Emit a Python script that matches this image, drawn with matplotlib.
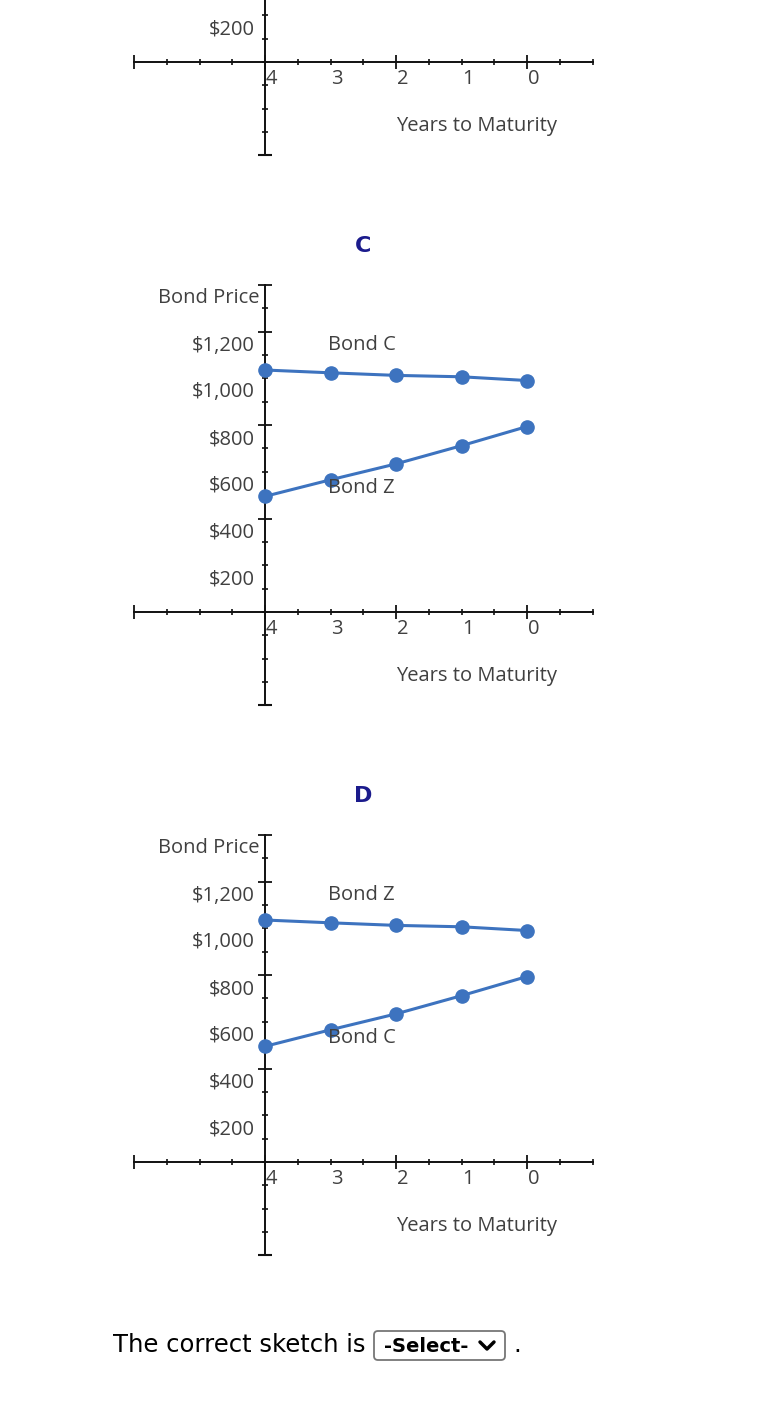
import numpy as np
import matplotlib.pyplot as plt
from matplotlib.transforms import offset_copy, IdentityTransform
from matplotlib.patches import FancyBboxPatch
from matplotlib.lines import Line2D

years = [4, 3, 2, 1, 0]
upper_line = [1036, 1024, 1013, 1007, 991]
lower_line = [495, 566, 634, 712, 794]
price_ticks = [1200, 1000, 800, 600, 400, 200]
price_labels = ['$1,200', '$1,000', '$800', '$600', '$400', '$200']
year_ticks = [4, 3, 2, 1, 0]
year_labels = ['4', '3', '2', '1', '0']

# (title, y of x-axis in px, label on upper line, label on lower line)
panels = [
    (None, 62, None, None),
    ('C', 612, 'Bond C', 'Bond Z'),
    ('D', 1162, 'Bond Z', 'Bond C'),
]

W, H = 758, 1424
fig = plt.figure(figsize=(W / 100, H / 100), dpi=100)
fig.patch.set_facecolor('white')

txt_color = '#404040'
blue = '#3d73bf'
font = 'Open Sans'
fs = 14.5
px_per_dollar = 327 / 1400


def draw_panel(title, y0, up_lab, low_lab):
    ax = fig.add_axes([134 / W, (H - y0 - 93.4) / H, 458.5 / W, 420.4 / H])
    ax.set_xlim(6, -1)
    ax.set_ylim(-400, 1400)
    ax.patch.set_visible(False)
    for s in ['top', 'right']:
        ax.spines[s].set_visible(False)
    ax.spines['left'].set_position(('data', 4))
    ax.spines['bottom'].set_position(('data', 0))
    for s in ['left', 'bottom']:
        ax.spines[s].set_linewidth(1.4)
        ax.spines[s].set_color('#111111')
    ax.set_xticks([6, 4, 2, 0])
    ax.set_xticks(np.arange(-1, 6.01, 0.5), minor=True)
    ax.set_yticks([400, 800, 1200, 1400])
    ax.set_yticks(np.arange(-400, 1401, 100), minor=True)
    ax.tick_params(which='major', direction='inout', length=10, width=1.3,
                   color='#111111', labelbottom=False, labelleft=False)
    ax.tick_params(which='minor', direction='inout', length=5, width=1.2,
                   color='#111111')
    ax.plot([4], [-400], marker='_', ms=10, mew=1.5, color='#111111',
            clip_on=False)

    for v, lab in zip(year_ticks, year_labels):
        ax.text(v, 0, lab, transform=offset_copy(ax.transData, fig, x=1, y=-17, units='dots'),
                ha='left', va='center', fontsize=fs, color=txt_color, family=font)
    for v, lab in zip(price_ticks, price_labels):
        # skip labels that would fall above the top edge of the page
        if y0 - v * px_per_dollar + 14 < 12:
            continue
        ax.text(4, v, lab.replace('$', r'\$'),
                transform=offset_copy(ax.transData, fig, x=-10, y=-14, units='dots'),
                ha='right', va='center', fontsize=fs, color=txt_color, family=font)
    ax.text(2, 0, 'Years to Maturity',
            transform=offset_copy(ax.transData, fig, y=-64, units='dots'),
            ha='left', va='center', fontsize=fs, color=txt_color, family=font)

    if title is not None:
        ax.text(4, 1344, 'Bond Price', transform=offset_copy(ax.transData, fig, x=-6, units='dots'),
                ha='right', va='center', fontsize=fs, color=txt_color, family=font)
        ax.plot(years, upper_line, '-o', color=blue, lw=2.2, ms=9.5, clip_on=False, zorder=3)
        ax.plot(years, lower_line, '-o', color=blue, lw=2.2, ms=9.5, clip_on=False, zorder=3)
        ax.text(3, 1141, up_lab, transform=offset_copy(ax.transData, fig, x=-3, units='dots'),
                ha='left', va='center', fontsize=fs, color=txt_color, family=font, zorder=4)
        ax.text(3, 531, low_lab, transform=offset_copy(ax.transData, fig, x=-3, units='dots'),
                ha='left', va='center', fontsize=fs, color=txt_color, family=font, zorder=4)
        fig.text(363 / W, 1 - (y0 - 366) / H, title, ha='center', va='center',
                 fontsize=16, fontweight='bold', color='#1b1b8c', family='DejaVu Sans')


for p in panels:
    draw_panel(*p)

# answer line below the sketches
fig.text(113 / W, 1 - 1345 / H, 'The correct sketch is', ha='left', va='center',
         fontsize=17.5, color='black', family='DejaVu Sans')
box = FancyBboxPatch((374, H - 1360), 131, 29, boxstyle='round,pad=0,rounding_size=4',
                     transform=IdentityTransform(), facecolor='white',
                     edgecolor='#767676', linewidth=1.3)
fig.add_artist(box)
fig.text(384 / W, 1 - 1346 / H, '-Select-', ha='left', va='center',
         fontsize=14, fontweight='bold', color='black', family='DejaVu Sans')
fig.add_artist(Line2D([480, 487, 494], [H - 1342, H - 1349, H - 1342],
                      transform=IdentityTransform(), color='black', lw=2.5,
                      solid_capstyle='round', solid_joinstyle='round'))
fig.text(513 / W, 1 - 1345 / H, '.', ha='left', va='center',
         fontsize=17.5, color='black', family='DejaVu Sans')

fig.savefig('out.png', dpi=100)
